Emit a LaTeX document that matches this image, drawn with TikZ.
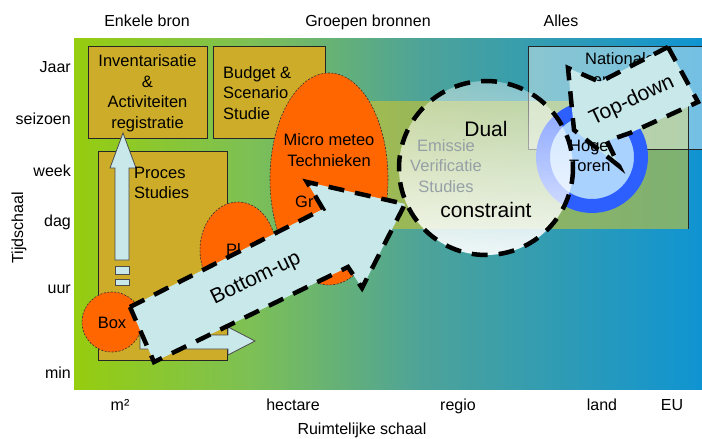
\documentclass[tikz,border=0pt]{standalone}
\usepackage{fontspec}
\setmainfont{Liberation Sans}
\usetikzlibrary{fadings}
\definecolor{bgA}{RGB}{150,205,15}
\definecolor{bgB}{RGB}{125,192,85}
\definecolor{bgC}{RGB}{78,163,152}
\definecolor{bgD}{RGB}{15,148,210}
\definecolor{gold}{RGB}{204,172,40}
\definecolor{olive}{RGB}{215,200,40}
\definecolor{orng}{RGB}{255,102,0}
\definecolor{paleblue}{RGB}{200,232,234}
\definecolor{ringblue}{RGB}{45,95,255}
\definecolor{ringin}{RGB}{170,210,255}
\definecolor{grtxt}{RGB}{150,160,165}
\tikzfading[name=circfade, top color=transparent!62, bottom color=transparent!8]
\begin{document}
\begin{tikzpicture}[x=1pt,y=-1pt,
  lbl/.style={inner sep=0pt, font=\fontsize{16}{19}\selectfont},
  boxtext/.style={inner sep=0pt, font=\fontsize{16.5}{20.5}\selectfont},
  bigtext/.style={inner sep=0pt, font=\fontsize{21}{24}\selectfont},
  goldbox/.style={fill=gold, draw=black!85, line width=1pt},
  blob/.style={fill=orng, draw=black!80, line width=0.6pt, dash pattern=on 2pt off 1.5pt},
  bigdash/.style={draw=black, line width=4.5pt, dash pattern=on 16pt off 11pt},
  thinarrow/.style={fill=paleblue, draw=black!70, line width=0.8pt}
]
\useasboundingbox (0,0) rectangle (702,439);
\fill[white] (0,0) rectangle (702,439);
% background gradient
\fill[left color=bgA, right color=bgB] (74,38) rectangle (250.5,389);
\fill[left color=bgB, right color=bgC] (250,38) rectangle (420.5,389);
\fill[left color=bgC, right color=bgD] (420,38) rectangle (702,389);
% olive band and national box
\fill[olive, fill opacity=0.55] (330,101) rectangle (688,229);
\fill[white, fill opacity=0.42] (528,46) rectangle (702,149);
\draw[black!85, line width=1pt] (702,46) -- (528,46) -- (528,149) -- (702,149);
\draw[black!85, line width=1pt] (688,101) -- (688,229);
% gold boxes
\draw[goldbox] (88,46) rectangle (207,138);
\draw[goldbox] (213,46) rectangle (325,138);
\draw[goldbox] (98,151) rectangle (227,360);
% vertical arrow
\draw[thinarrow] (123,133) -- (136,168) -- (129,168) -- (129,260) -- (115,260) -- (115,168) -- (110,168) -- cycle;
\draw[thinarrow] (115,266) rectangle (129,274);
\draw[thinarrow] (115,279) rectangle (129,285);
% horizontal arrow
\draw[thinarrow] (140,335) -- (228,335) -- (228,327) -- (255,341) -- (228,355) -- (228,349) -- (140,349) -- cycle;
% orange shapes
\draw[blob] (112,322) circle (30);
\draw[blob] (238,250) ellipse [x radius=38, y radius=48];
\draw[blob] (329,179) ellipse [x radius=59, y radius=106];
% ring
\fill[ringin] (592,157) circle (43);
\fill[ringblue, even odd rule] (592,157) circle (56) (592,157) circle (42);
% dual circle
\fill[white, path fading=circfade] (486,168) circle (87);
\draw[bigdash] (486,168) circle (87);
% axis labels
\node[lbl, anchor=base] (enkele) at (147,26) {Enkele bron};
\node[lbl, anchor=base] (groepen) at (368,26) {Groepen bronnen};
\node[lbl, anchor=base] (alles) at (561,26) {Alles};
\node[lbl, anchor=base east] (jaar) at (71,72) {Jaar};
\node[lbl, anchor=base east] (seizoen) at (71,124) {seizoen};
\node[lbl, anchor=base east] (week) at (71,176) {week};
\node[lbl, anchor=base east] (dag) at (71,226) {dag};
\node[lbl, anchor=base east] (uur) at (71,293) {uur};
\node[lbl, anchor=base east] (min) at (71,378) {min};
\node[lbl, rotate=90] (tijd) at (19,228) {Tijdschaal};
\node[lbl, anchor=base] (m2) at (120,410) {m²};
\node[lbl, anchor=base] (hectare) at (293,410) {hectare};
\node[lbl, anchor=base] (regio) at (458,410) {regio};
\node[lbl, anchor=base] (land) at (602,410) {land};
\node[lbl, anchor=base] (eu) at (672,410) {EU};
\node[lbl, anchor=base] (ruimte) at (362,434) {Ruimtelijke schaal};
% box texts
\node[boxtext, align=center] (inv) at (147.5,93) {Inventarisatie\\\&\\Activiteiten\\registratie};
\node[boxtext, align=left, anchor=west] (budget) at (223,93) {Budget \&\\Scenario\\Studie};
\node[boxtext, align=left, anchor=west] (proces) at (134,183) {Proces\\Studies};
\node[boxtext, align=center] (micro) at (329,150) {Micro meteo\\Technieken};
\node[boxtext, anchor=west] (gr) at (295,202) {Gr};
\node[boxtext, anchor=west] (pl) at (226,250) {Pl};
\node[boxtext] (box) at (112,323) {Box};
\node[boxtext, align=center, text=grtxt] (emis) at (446,166) {Emissie\\Verificatie\\Studies};
\node[bigtext] (dual) at (486,129) {Dual};
\node[bigtext] (constr) at (486,210) {constraint};
\node[boxtext, align=center] (nat) at (620,69) {Nationale\\Inventarisatie};
% bottom-up arrow
\fill[paleblue] (130,307) -- (323,209) -- (307,182) -- (405,204) -- (362,288) -- (348,267) -- (154,362) -- cycle;
\draw[bigdash] (130,307) -- (323,209) -- (307,182) -- (405,204) -- (362,288) -- (348,267) -- (154,362) -- cycle;
\node[bigtext, rotate=26] (bu) at (256,279) {Bottom-up};
% top-down arrow
\fill[paleblue] (668,47) -- (698,102) -- (630,133) -- (607,141) -- (619,166) -- (574,130) -- (568,68) -- (600,82) -- cycle;
\node[boxtext, align=left, anchor=west] (hoge) at (569,156) {Hoge\\Toren};
\draw[bigdash] (668,47) -- (698,102) -- (630,133) -- (607,141) -- (619,166) -- (574,130) -- (568,68) -- (600,82) -- cycle;
\node[bigtext, rotate=25.5] (td) at (632,101) {Top-down};
\end{tikzpicture}
\end{document}
